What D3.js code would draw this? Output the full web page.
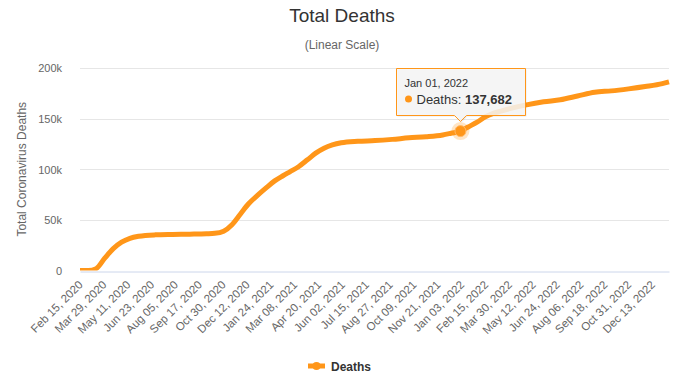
<!DOCTYPE html>
<html lang="en">
<head>
<meta charset="UTF-8">
<title>Total Deaths</title>
<style>
  body { margin: 0; background: #fff; }
  svg { font-family: "Liberation Sans", Arial, sans-serif; display: block; }
</style>
</head>
<body>
<div id="chart"></div>
<script src="https://d3js.org/d3.v7.min.js"></script>
<script>
// values
const dates = [
  "2020-02-15", "2020-03-01", "2020-03-15", "2020-03-31", "2020-04-15", "2020-04-30",
  "2020-05-15", "2020-05-31", "2020-06-30", "2020-07-31", "2020-08-31", "2020-09-30",
  "2020-10-15", "2020-10-31", "2020-11-15", "2020-11-30", "2020-12-15", "2020-12-31",
  "2021-01-15", "2021-01-31", "2021-02-15", "2021-02-28", "2021-03-15", "2021-03-31",
  "2021-04-15", "2021-04-30", "2021-05-15", "2021-05-31", "2021-06-30", "2021-07-31",
  "2021-08-31", "2021-09-30", "2021-10-31", "2021-11-30", "2021-12-15", "2022-01-01",
  "2022-01-15", "2022-01-31", "2022-02-15", "2022-02-28", "2022-03-15", "2022-03-31",
  "2022-04-30", "2022-05-31", "2022-06-30", "2022-07-31", "2022-08-31", "2022-09-30",
  "2022-10-31", "2022-11-30", "2022-12-31", "2023-01-12"
];
const deaths = [
  0, 30, 1800, 12400, 21600, 28000,
  31800, 33800, 35200, 35600, 35900, 36300,
  36700, 38800, 45200, 55600, 65900, 74200,
  81300, 88500, 93600, 97700, 102500, 109300,
  115900, 120800, 124000, 126100, 127600, 128300,
  129500, 131000, 132100, 133900, 135600, 137682,
  141800, 146500, 151900, 155000, 157400, 159800,
  163600, 166600, 168600, 172300, 176100, 177400,
  179400, 181700, 184600, 186300
];
const tickLabels = [
  "Feb 15, 2020", "Mar 29, 2020", "May 11, 2020", "Jun 23, 2020", "Aug 05, 2020",
  "Sep 17, 2020", "Oct 30, 2020", "Dec 12, 2020", "Jan 24, 2021", "Mar 08, 2021",
  "Apr 20, 2021", "Jun 02, 2021", "Jul 15, 2021", "Aug 27, 2021", "Oct 09, 2021",
  "Nov 21, 2021", "Jan 03, 2022", "Feb 15, 2022", "Mar 30, 2022", "May 12, 2022",
  "Jun 24, 2022", "Aug 06, 2022", "Sep 18, 2022", "Oct 31, 2022", "Dec 13, 2022"
];
const yTicks = [0, 50000, 100000, 150000, 200000];
const tooltipDate = "2022-01-01";

const W = 684, H = 388;
const margin = { top: 68, right: 15, bottom: 118, left: 80 };
const orange = "#ff9619";

const parseIso = d3.utcParse("%Y-%m-%d");
const parseLabel = d3.utcParse("%b %d, %Y");
const data = dates.map((d, i) => ({ date: parseIso(d), value: deaths[i] }));

const svg = d3.select("#chart").append("svg")
  .attr("width", W).attr("height", H);

const x = d3.scaleUtc()
  .domain(d3.extent(data, d => d.date))
  .range([margin.left, W - margin.right]);
const y = d3.scaleLinear()
  .domain([0, 200000])
  .range([H - margin.bottom + 0.5, margin.top]);

// title
svg.append("text").attr("x", W / 2).attr("y", 22)
  .attr("text-anchor", "middle").style("font-size", "19px").style("fill", "#333")
  .text("Total Deaths");
svg.append("text").attr("x", W / 2).attr("y", 49)
  .attr("text-anchor", "middle").style("font-size", "12px").style("fill", "#666")
  .text("(Linear Scale)");

// grid
svg.append("g").selectAll("line").data(yTicks.slice(1)).join("line")
  .attr("x1", margin.left).attr("x2", W - margin.right)
  .attr("y1", d => Math.round(y(d)) + 0.5).attr("y2", d => Math.round(y(d)) + 0.5)
  .attr("stroke", "#e6e6e6");

// y axis labels
const yAxis = svg.append("g")
  .attr("transform", `translate(${margin.left - 15},0)`)
  .call(d3.axisLeft(y).tickValues(yTicks).tickSize(0)
    .tickFormat(d => d === 0 ? "0" : (d / 1000) + "k"));
yAxis.select(".domain").remove();
yAxis.selectAll("text").style("font-size", "11px").style("fill", "#666")
  .style("font-family", "Liberation Sans, Arial, sans-serif").attr("dy", "0.35em");

svg.append("text")
  .attr("transform", `translate(26,${(y(0) + y(200000)) / 2}) rotate(-90)`)
  .attr("text-anchor", "middle").style("font-size", "12px").style("fill", "#666")
  .text("Total Coronavirus Deaths");

// x axis
const tickDates = tickLabels.map(parseLabel);
const xAxis = svg.append("g")
  .attr("transform", `translate(0,${Math.round(y(0)) + 0.5})`)
  .call(d3.axisBottom(x).tickValues(tickDates).tickSize(0)
    .tickFormat((d, i) => tickLabels[i]));
xAxis.select(".domain").attr("stroke", "#ccd6eb");
xAxis.selectAll("text")
  .style("font-size", "11.5px").style("fill", "#666")
  .style("font-family", "Liberation Sans, Arial, sans-serif")
  .attr("text-anchor", "end").attr("dy", null).attr("y", 0)
  .attr("transform", "translate(3,14) rotate(-45)");

// line
svg.append("clipPath").attr("id", "plot").append("rect")
  .attr("x", margin.left - 5).attr("y", margin.top - 5)
  .attr("width", W - margin.left - margin.right + 10)
  .attr("height", y(0) - margin.top + 5);

const line = d3.line()
  .x(d => x(d.date)).y(d => y(d.value))
  .curve(d3.curveMonotoneX);

svg.append("path").datum(data)
  .attr("clip-path", "url(#plot)")
  .attr("d", line)
  .attr("fill", "none").attr("stroke", orange)
  .attr("stroke-width", 5).attr("stroke-linejoin", "round");

// hovered point
const hp = data.find(d => +d.date === +parseIso(tooltipDate));
const px = x(hp.date), py = y(hp.value);
svg.append("circle").attr("cx", px).attr("cy", py).attr("r", 9)
  .attr("fill", orange).attr("opacity", 0.25);
svg.append("circle").attr("cx", px).attr("cy", py).attr("r", 5.5)
  .attr("fill", orange).attr("stroke", "#ffb866").attr("stroke-width", 1);

// tooltip
const tw = 129, th = 47;
const tx = Math.round(px) - 63.5, ty = 68.5;
const tip = svg.append("g");
const tipPath = `M${tx},${ty} h${tw} v${th} H${px + 6} l-6,6 l-6,-6 H${tx} Z`;
tip.append("path").attr("d", tipPath)
  .attr("fill", "rgba(0,0,0,0.08)").attr("transform", "translate(1,1)");
tip.append("path").attr("d", tipPath)
  .attr("fill", "rgba(247,247,247,0.85)").attr("stroke", orange).attr("stroke-width", 1);
tip.append("text").attr("x", tx + 8).attr("y", ty + 18)
  .style("font-size", "11px").style("fill", "#333")
  .text(d3.utcFormat("%b %d, %Y")(hp.date));
tip.append("circle").attr("cx", tx + 12).attr("cy", ty + 30.5).attr("r", 3.5).attr("fill", orange);
const t2 = tip.append("text").attr("x", tx + 20).attr("y", ty + 35)
  .style("font-size", "13px").style("fill", "#333");
t2.append("tspan").text("Deaths: ");
t2.append("tspan").style("font-weight", "bold").text(d3.format(",")(hp.value));

// legend
const lg = svg.append("g").attr("transform", "translate(308,366)");
lg.append("line").attr("x1", 0).attr("x2", 17).attr("stroke", orange).attr("stroke-width", 5);
lg.append("circle").attr("cx", 8.5).attr("r", 4).attr("fill", orange);
lg.append("text").attr("x", 23).attr("y", 4.5)
  .style("font-size", "12px").style("font-weight", "bold").style("fill", "#333")
  .text("Deaths");
</script>
</body>
</html>
